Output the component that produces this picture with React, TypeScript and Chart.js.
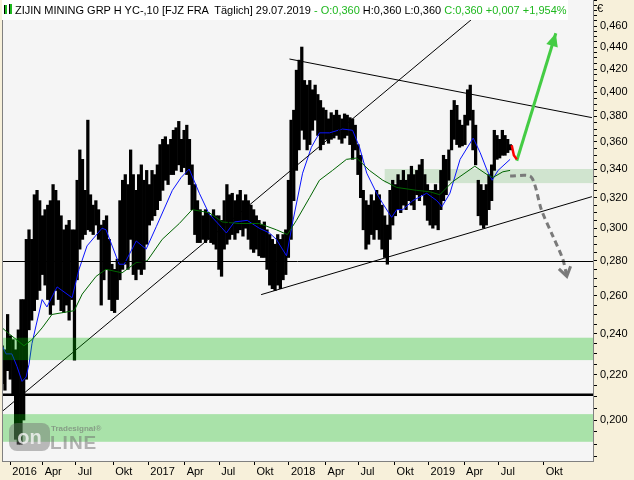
import { useEffect, useRef } from 'react';
import { Chart, registerables } from 'chart.js';

Chart.register(...registerables);

// x unit: trading weeks after 1 Jan 2016; first weekly range sits at week -3
const FIRST_WEEK = -3;

const barHigh = [
  0.234, 0.232, 0.250, 0.239, 0.237, 0.232, 0.242, 0.258, 0.258, 0.293,
  0.299, 0.293, 0.322, 0.325, 0.318, 0.308, 0.312, 0.315, 0.318, 0.329,
  0.325, 0.318, 0.308, 0.299, 0.302, 0.305, 0.299, 0.299, 0.332, 0.354,
  0.347, 0.325, 0.377, 0.322, 0.315, 0.318, 0.312, 0.302, 0.305, 0.308,
  0.293, 0.278, 0.275, 0.281, 0.318, 0.332, 0.336, 0.329, 0.354, 0.336,
  0.325, 0.336, 0.343, 0.332, 0.339, 0.329, 0.339, 0.336, 0.343, 0.358,
  0.362, 0.364, 0.358, 0.362, 0.369, 0.371, 0.376, 0.362, 0.369, 0.373,
  0.362, 0.343, 0.329, 0.318, 0.312, 0.308, 0.312, 0.310, 0.308, 0.312,
  0.308, 0.308, 0.305, 0.318, 0.329, 0.322, 0.323, 0.318, 0.322, 0.325,
  0.318, 0.322, 0.318, 0.315, 0.312, 0.308, 0.305, 0.302, 0.304, 0.299,
  0.296, 0.293, 0.290, 0.296, 0.293, 0.296, 0.299, 0.332, 0.377, 0.385,
  0.419, 0.428, 0.440, 0.410, 0.406, 0.410, 0.402, 0.406, 0.398, 0.393,
  0.387, 0.385, 0.378, 0.383, 0.381, 0.385, 0.381, 0.378, 0.382, 0.381,
  0.379, 0.378, 0.373, 0.358, 0.350, 0.325, 0.318, 0.315, 0.322, 0.318,
  0.325, 0.322, 0.315, 0.308, 0.302, 0.325, 0.332, 0.329, 0.336, 0.332,
  0.339, 0.332, 0.336, 0.342, 0.336, 0.339, 0.343, 0.347, 0.336, 0.329,
  0.325, 0.325, 0.329, 0.325, 0.339, 0.350, 0.347, 0.354, 0.385, 0.393,
  0.389, 0.377, 0.373, 0.381, 0.402, 0.406, 0.385, 0.373, 0.332, 0.329,
  0.325, 0.329, 0.336, 0.343, 0.369, 0.365, 0.362, 0.369, 0.365, 0.362,
  0.358,
];

const barLow = [
  0.216, 0.213, 0.222, 0.218, 0.211, 0.192, 0.190, 0.190, 0.200, 0.218,
  0.242, 0.247, 0.252, 0.258, 0.263, 0.272, 0.266, 0.258, 0.250, 0.255,
  0.263, 0.258, 0.252, 0.251, 0.255, 0.247, 0.258, 0.227, 0.269, 0.287,
  0.293, 0.296, 0.299, 0.298, 0.296, 0.302, 0.293, 0.255, 0.269, 0.275,
  0.258, 0.252, 0.251, 0.258, 0.269, 0.275, 0.278, 0.275, 0.293, 0.272,
  0.269, 0.275, 0.272, 0.275, 0.290, 0.302, 0.305, 0.308, 0.312, 0.318,
  0.325, 0.332, 0.329, 0.336, 0.336, 0.339, 0.343, 0.338, 0.341, 0.336,
  0.329, 0.312, 0.296, 0.291, 0.291, 0.293, 0.291, 0.293, 0.291, 0.290,
  0.287, 0.275, 0.271, 0.287, 0.290, 0.293, 0.296, 0.293, 0.297, 0.299,
  0.295, 0.300, 0.293, 0.287, 0.285, 0.287, 0.283, 0.282, 0.282, 0.275,
  0.266, 0.264, 0.263, 0.266, 0.264, 0.269, 0.272, 0.282, 0.293, 0.318,
  0.339, 0.354, 0.369, 0.362, 0.354, 0.358, 0.369, 0.377, 0.365, 0.354,
  0.358, 0.362, 0.359, 0.362, 0.363, 0.365, 0.362, 0.359, 0.363, 0.365,
  0.358, 0.347, 0.354, 0.336, 0.320, 0.299, 0.287, 0.290, 0.296, 0.293,
  0.299, 0.293, 0.287, 0.282, 0.278, 0.293, 0.302, 0.308, 0.312, 0.310,
  0.315, 0.312, 0.318, 0.315, 0.312, 0.322, 0.318, 0.322, 0.315, 0.305,
  0.302, 0.300, 0.302, 0.299, 0.312, 0.318, 0.322, 0.332, 0.354, 0.362,
  0.358, 0.356, 0.357, 0.358, 0.373, 0.377, 0.354, 0.343, 0.308, 0.302,
  0.300, 0.302, 0.312, 0.318, 0.339, 0.347, 0.348, 0.350, 0.350, 0.352,
  0.354,
];

const blueWeeks = [
  -3, -1.6, 0.6, 2.5, 4.4, 5.9, 7.0, 8.1, 9.6, 11.9, 13.7, 17.5, 23.1, 25.7, 28.7, 34.3,
  35.8, 40.7, 42.6, 47.1, 50.8, 54.6, 60.6, 63.9, 66.9, 70.7, 74.4, 78.2, 80.8, 83.8,
  88.6, 93.1, 96.9, 99.5, 103.3, 105.5, 109.3, 112.6, 115.6, 119.4, 124.2, 128.0, 130.6,
  133.3, 137.0, 139.3, 142.6, 144.5, 146.8, 150.5, 155.7, 159.5, 161.4, 164.4, 168.2,
  173.1, 175.7, 178.3, 180.2, 182.4, 186.9,
];
const blueValues = [
  0.234, 0.230, 0.230, 0.224, 0.217, 0.219, 0.225, 0.235, 0.244, 0.258, 0.254, 0.265,
  0.259, 0.275, 0.289, 0.300, 0.299, 0.278, 0.278, 0.292, 0.287, 0.301, 0.325, 0.334,
  0.340, 0.323, 0.309, 0.302, 0.297, 0.304, 0.305, 0.300, 0.297, 0.293, 0.283, 0.303,
  0.337, 0.356, 0.367, 0.367, 0.370, 0.369, 0.356, 0.337, 0.323, 0.316, 0.307, 0.312,
  0.312, 0.318, 0.323, 0.318, 0.314, 0.323, 0.347, 0.363, 0.352, 0.339, 0.332, 0.339,
  0.347,
];

const greenWeeks = [
  -3, -0.5, 1.4, 5.1, 8.1, 11.9, 15.6, 23.9, 26.9, 32.1, 35.8, 41.8, 47.1, 51.2, 56.8,
  63.2, 68.0, 74.4, 79.3, 85.6, 93.1, 99.5, 103.6, 107.0, 111.9, 115.6, 120.5, 125.7,
  129.5, 134.3, 139.3, 144.5, 152.0, 156.9, 160.6, 165.4, 173.7, 178.3, 180.5, 184.2, 186.9,
];
const greenValues = [
  0.243, 0.240, 0.238, 0.234, 0.237, 0.243, 0.250, 0.252, 0.261, 0.271, 0.275, 0.273,
  0.279, 0.280, 0.293, 0.303, 0.312, 0.310, 0.304, 0.303, 0.303, 0.299, 0.296, 0.305,
  0.320, 0.332, 0.339, 0.347, 0.348, 0.339, 0.332, 0.327, 0.325, 0.324, 0.322, 0.331,
  0.342, 0.336, 0.334, 0.338, 0.339,
];

// drawn trendlines: [week, price]
const trendRising = [[-3.5, 0.2032], [181.2, 0.486]];
const trendUpper = [[104.4, 0.429], [217.5, 0.379]];
const trendLower = [[93.8, 0.2607], [217.5, 0.3207]];

// projection arrows
const redPath = [[187.5, 0.3575], [188.3, 0.350], [189.4, 0.347]];
const greenArrow = [[189.4, 0.346], [204.0, 0.453]];
const grayArrow = [
  [186.9, 0.335], [194.3, 0.335], [196.1, 0.329], [198.6, 0.312],
  [202.9, 0.295], [206.6, 0.281], [208.1, 0.271],
];

// zones and horizontal levels
const zoneUpper = [0.330, 0.340];
const zoneUpperStartWeek = 140.0;
const zoneMiddle = [0.227, 0.238];
const zoneLower = [0.191, 0.2025];
const supportLevel = 0.28;
const thickLevel = 0.211;

const xTickWeeks = [0, 12.1, 24.5, 38.5, 51.6, 65.2, 78.1, 91.3, 104.2, 117.9, 130.2, 143.7, 156.4, 169.7, 182.7, 199.5];
const xTickLabels = ['2016', 'Apr', 'Jul', 'Okt', '2017', 'Apr', 'Jul', 'Okt', '2018', 'Apr', 'Jul', 'Okt', '2019', 'Apr', 'Jul', 'Okt'];

const X_MIN = -3.1;
const X_MAX = 217.9;
const Y_MIN = 0.1834;
const Y_MAX = 0.486;
const Y_TICK_FIRST = 0.185;
const Y_TICK_LAST = 0.485;
const Y_TICK_STEP = 0.005;

const BEIGE = '#f7f0da';
const FONT = "'Liberation Sans', Arial, sans-serif";

const pts = (arr: number[][]) => arr.map(([x, y]) => ({ x, y }));

function arrowHead(ctx: CanvasRenderingContext2D, fx: number, fy: number, tx: number, ty: number, len: number, half: number, fill: boolean) {
  const ang = Math.atan2(ty - fy, tx - fx);
  const bx = tx - len * Math.cos(ang);
  const by = ty - len * Math.sin(ang);
  const px = half * Math.sin(ang);
  const py = -half * Math.cos(ang);
  ctx.beginPath();
  if (fill) {
    ctx.moveTo(tx, ty);
    ctx.lineTo(bx + px, by + py);
    ctx.lineTo(bx - px, by - py);
    ctx.closePath();
    ctx.fill();
  } else {
    ctx.moveTo(bx + px, by + py);
    ctx.lineTo(tx, ty);
    ctx.lineTo(bx - px, by - py);
    ctx.stroke();
  }
}

const decor = {
  id: 'decor',
  beforeDraw(chart: any) {
    const { ctx, chartArea: a, width, height } = chart;
    ctx.save();
    ctx.fillStyle = BEIGE;
    ctx.fillRect(0, 0, width, height);
    ctx.fillStyle = '#f5f5f5';
    ctx.fillRect(a.left, a.top, a.right - a.left, a.bottom - a.top);
    ctx.restore();
  },
  beforeDatasetsDraw(chart: any) {
    const { ctx, chartArea: a, scales } = chart;
    const x0 = scales.x.getPixelForValue(zoneUpperStartWeek);
    const yt = scales.y.getPixelForValue(zoneUpper[1]);
    const yb = scales.y.getPixelForValue(zoneUpper[0]);
    ctx.save();
    ctx.fillStyle = '#d0e4cf';
    ctx.fillRect(x0, yt, a.right - x0, yb - yt);
    ctx.restore();
  },
  afterDatasetsDraw(chart: any) {
    const { ctx, chartArea: a, scales } = chart;
    const ys = scales.y;
    const xs = scales.x;
    ctx.save();
    ctx.beginPath();
    ctx.rect(a.left, a.top, a.right - a.left, a.bottom - a.top);
    ctx.clip();
    ctx.fillStyle = 'rgba(0,185,0,0.31)';
    for (const z of [zoneMiddle, zoneLower]) {
      const yt = ys.getPixelForValue(z[1]);
      const yb = ys.getPixelForValue(z[0]);
      ctx.fillRect(a.left, yt, a.right - a.left, yb - yt);
    }
    ctx.strokeStyle = '#000';
    ctx.lineWidth = 1;
    let y = Math.round(ys.getPixelForValue(supportLevel)) + 0.5;
    ctx.beginPath();
    ctx.moveTo(a.left, y);
    ctx.lineTo(a.right, y);
    ctx.stroke();
    ctx.lineWidth = 2.5;
    y = ys.getPixelForValue(thickLevel);
    ctx.beginPath();
    ctx.moveTo(a.left, y);
    ctx.lineTo(a.right, y);
    ctx.stroke();

    // arrow heads
    const g1 = greenArrow[greenArrow.length - 2];
    const g2 = greenArrow[greenArrow.length - 1];
    ctx.fillStyle = '#44cc44';
    arrowHead(ctx, xs.getPixelForValue(g1[0]), ys.getPixelForValue(g1[1]), xs.getPixelForValue(g2[0]), ys.getPixelForValue(g2[1]), 13, 6, true);
    const r1 = grayArrow[grayArrow.length - 2];
    const r2 = grayArrow[grayArrow.length - 1];
    ctx.strokeStyle = '#7a7a7a';
    ctx.lineWidth = 3;
    arrowHead(ctx, xs.getPixelForValue(r1[0]), ys.getPixelForValue(r1[1]), xs.getPixelForValue(r2[0]), ys.getPixelForValue(r2[1]), 9, 6, false);
    ctx.restore();

    // left frame
    ctx.save();
    ctx.strokeStyle = '#808080';
    ctx.lineWidth = 1;
    ctx.beginPath();
    ctx.moveTo(a.left + 0.5, a.top);
    ctx.lineTo(a.left + 0.5, a.bottom);
    ctx.stroke();
    ctx.restore();
  },
};

export default function App() {
  const ref = useRef<HTMLCanvasElement | null>(null);

  useEffect(() => {
    if (!ref.current) return;
    const yTicks: number[] = [];
    for (let v = Y_TICK_FIRST; v <= Y_TICK_LAST + 1e-9; v += Y_TICK_STEP) yTicks.push(Math.round(v * 1000) / 1000);

    const lineDs = (data: any[], color: string, width: number, order: number, extra: any = {}) => ({
      type: 'line',
      data,
      borderColor: color,
      borderWidth: width,
      pointRadius: 0,
      fill: false,
      tension: 0,
      order,
      ...extra,
    });

    const chart = new Chart(ref.current, {
      type: 'bar',
      data: {
        datasets: [
          {
            type: 'bar',
            data: barLow.map((lo, i) => ({ x: FIRST_WEEK + i, y: [lo, barHigh[i]] })),
            backgroundColor: '#000',
            borderWidth: 0,
            barThickness: 2.6,
            grouped: false,
            order: 10,
          } as any,
          lineDs(blueWeeks.map((w, i) => ({ x: w, y: blueValues[i] })), '#0a14ff', 1, 6),
          lineDs(greenWeeks.map((w, i) => ({ x: w, y: greenValues[i] })), '#006400', 1, 5),
          lineDs(pts(trendRising), '#000', 1, 4),
          lineDs(pts(trendUpper), '#000', 1, 4),
          lineDs(pts(trendLower), '#000', 1, 4),
          lineDs(pts(redPath), '#ff0000', 2.5, 2),
          lineDs(pts(greenArrow), '#44cc44', 3, 2),
          lineDs(pts(grayArrow), '#7a7a7a', 3, 1, { borderDash: [6, 4], tension: 0.3 }),
        ],
      },
      options: {
        animation: false,
        responsive: false,
        events: [],
        layout: { padding: { left: 2, right: 0, top: 0, bottom: 0 } },
        plugins: { legend: { display: false }, tooltip: { enabled: false }, title: { display: false } },
        scales: {
          x: {
            type: 'linear',
            position: 'bottom',
            offset: false,
            min: X_MIN,
            max: X_MAX,
            afterFit: (s: any) => { s.height = 19; s.paddingLeft = 0; s.paddingRight = 0; },
            afterBuildTicks: (s: any) => { s.ticks = xTickWeeks.map((v) => ({ value: v })); },
            ticks: {
              autoSkip: false,
              maxRotation: 0,
              minRotation: 0,
              align: 'start',
              labelOffset: 2,
              padding: 0,
              color: '#000',
              font: { family: FONT, size: 11 },
              callback: (_v: any, i: number) => xTickLabels[i],
            },
            grid: { offset: false, drawOnChartArea: false, drawTicks: true, tickLength: 4, color: '#000' },
            border: { display: true, color: '#808080' },
          },
          y: {
            type: 'logarithmic',
            position: 'right',
            min: Y_MIN,
            max: Y_MAX,
            afterFit: (s: any) => { s.width = 41; s.paddingTop = 0; s.paddingBottom = 0; },
            afterBuildTicks: (s: any) => { s.ticks = yTicks.map((v) => ({ value: v })); },
            ticks: {
              autoSkip: false,
              padding: 3,
              color: '#000',
              font: { family: FONT, size: 11 },
              callback: (v: any) => {
                const m = Math.round(Number(v) * 1000);
                if (m % 20 !== 0 || m < 200 || m > 460) return '';
                return (m / 1000).toFixed(3).replace('.', ',');
              },
            },
            grid: { drawOnChartArea: false, drawTicks: true, tickLength: 4, color: '#000' },
            border: { display: true, color: '#808080' },
          },
        },
      } as any,
      plugins: [decor],
    } as any);
    return () => chart.destroy();
  }, []);

  const green = '#1fb81f';
  return (
    <div style={{ position: 'absolute', left: 0, top: 0, width: 634, height: 480, background: BEIGE, overflow: 'hidden' }}>
      <canvas ref={ref} width={634} height={480} style={{ position: 'absolute', left: 0, top: 0, width: 634, height: 480 }} />
      <div style={{ position: 'absolute', left: 2, top: 0, width: 566, height: 20, background: '#fff' }} />
      <div style={{ position: 'absolute', left: 4, top: 5, width: 2, height: 9, background: '#1fb81f', borderLeft: '1px solid #000' }} />
      <div style={{ position: 'absolute', left: 9, top: 4, width: 2, height: 10, background: '#1fb81f', borderLeft: '1px solid #000' }} />
      <div style={{ position: 'absolute', left: 15, top: 3, font: `11px ${FONT}`, lineHeight: '14px', whiteSpace: 'pre', color: '#000' }}>
        <span>ZIJIN MINING GRP H YC-,10 [FJZ FRA  Täglich] 29.07.2019 </span>
        <span style={{ color: green }}>- O:0,360</span>
        <span> H:0,360 L:0,360 </span>
        <span style={{ color: green }}>C:0,360 +0,007 +1,954%</span>
      </div>
      <div style={{ position: 'absolute', left: 597, top: 2, font: `11px ${FONT}`, color: '#000' }}>€</div>
      <div style={{ position: 'absolute', left: 9, top: 423, width: 41, height: 28, borderRadius: 8, background: 'rgba(110,110,110,0.45)', color: 'rgba(245,245,245,0.8)', font: `bold 20px ${FONT}`, lineHeight: '28px', textAlign: 'center' }}>on</div>
      <div style={{ position: 'absolute', left: 51, top: 424, font: `bold 8px ${FONT}`, color: 'rgba(110,110,110,0.6)' }}>Tradesignal®</div>
      <div style={{ position: 'absolute', left: 50, top: 432, font: `bold 19px ${FONT}`, color: 'rgba(110,110,110,0.5)', letterSpacing: 1 }}>LINE</div>
    </div>
  );
}
